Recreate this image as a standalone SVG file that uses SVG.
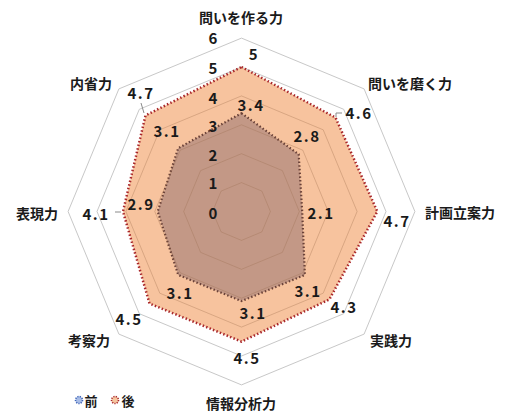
<svg xmlns="http://www.w3.org/2000/svg" width="506" height="414" viewBox="0 0 506 414">
<style>
text{font-family:"Noto Sans CJK JP","Noto Sans",sans-serif;fill:#1a1a1a;dominant-baseline:central;text-anchor:middle}
.cat{font-size:14px;font-weight:bold}
.num{font-size:15px;font-weight:bold;letter-spacing:1.5px}
.tick{font-size:15px;font-weight:bold}
.leg{font-size:13px;font-weight:bold}
.grid{fill:none;stroke:#c8c8c8;stroke-width:1}
.gridin{fill:none;stroke:#8a5a3a;stroke-width:1;stroke-opacity:0.22}
.ld{fill:none;stroke:#8a8a8a;stroke-width:1}
</style>
<rect width="506" height="414" fill="#fff"/>
<g id="grid">
<polygon class="grid" points="241.5,182.6 261.9,191.1 270.4,211.5 261.9,231.9 241.5,240.4 221.1,231.9 212.6,211.5 221.1,191.1"/>
<polygon class="grid" points="241.5,153.7 282.4,170.6 299.3,211.5 282.4,252.4 241.5,269.3 200.6,252.4 183.7,211.5 200.6,170.6"/>
<polygon class="grid" points="241.5,124.8 302.8,150.2 328.2,211.5 302.8,272.8 241.5,298.2 180.2,272.8 154.8,211.5 180.2,150.2"/>
<polygon class="grid" points="241.5,95.9 323.2,129.8 357.1,211.5 323.2,293.2 241.5,327.1 159.8,293.2 125.9,211.5 159.8,129.8"/>
<polygon class="grid" points="241.5,67 343.7,109.3 386,211.5 343.7,313.7 241.5,356 139.3,313.7 97,211.5 139.3,109.3"/>
<polygon class="grid" points="241.5,38.1 364.1,88.9 414.9,211.5 364.1,334.1 241.5,384.9 118.9,334.1 68.1,211.5 118.9,88.9"/>
</g>
<g id="series-after">
<polygon points="241.5,67 335.5,117.5 377.3,211.5 329.4,299.4 241.5,341.6 149.5,303.5 123,211.5 145.5,115.5" fill="#f6b88d" fill-opacity="0.85" stroke="#a8262a" stroke-width="2.5" stroke-dasharray="1.5 2.2"/>
</g>
<g id="series-before">
<polygon points="241.5,113.2 298.7,154.3 302.2,211.5 304.9,274.9 241.5,301.1 178.2,274.9 157.7,211.5 178.2,148.2" fill="#ba9081" fill-opacity="0.85" stroke="#6b4238" stroke-width="2.2" stroke-dasharray="1.5 2.2"/>
</g>
<g id="grid-overlay">
<polygon class="gridin" points="241.5,182.6 261.9,191.1 270.4,211.5 261.9,231.9 241.5,240.4 221.1,231.9 212.6,211.5 221.1,191.1"/>
<polygon class="gridin" points="241.5,153.7 282.4,170.6 299.3,211.5 282.4,252.4 241.5,269.3 200.6,252.4 183.7,211.5 200.6,170.6"/>
<polygon class="gridin" points="241.5,124.8 302.8,150.2 328.2,211.5 302.8,272.8 241.5,298.2 180.2,272.8 154.8,211.5 180.2,150.2"/>
<polygon class="gridin" points="241.5,95.9 323.2,129.8 357.1,211.5 323.2,293.2 241.5,327.1 159.8,293.2 125.9,211.5 159.8,129.8"/>
</g>
<g id="leaders">
<polyline class="ld" points="336,117 336,113 342,113"/>
<line class="ld" x1="115" y1="212" x2="121" y2="212"/>
<line class="ld" x1="141" y1="103" x2="144" y2="113"/>
</g>
<g id="ticks">
<text class="tick" x="213" y="37">6</text>
<text class="tick" x="213" y="67">5</text>
<text class="tick" x="213" y="97">4</text>
<text class="tick" x="213" y="125">3</text>
<text class="tick" x="213" y="154">2</text>
<text class="tick" x="213" y="182">1</text>
<text class="tick" x="213" y="212">0</text>
</g>
<g id="axis-labels">
<text class="cat" x="241" y="17">問いを作る力</text>
<text class="cat" x="410" y="83">問いを磨く力</text>
<text class="cat" x="460" y="212">計画立案力</text>
<text class="cat" x="391" y="340">実践力</text>
<text class="cat" x="241" y="403">情報分析力</text>
<text class="cat" x="89" y="340">考察力</text>
<text class="cat" x="37" y="213">表現力</text>
<text class="cat" x="91" y="83">内省力</text>
</g>
<g id="after-values">
<text class="num" x="254" y="53">5</text>
<text class="num" x="359" y="112">4.6</text>
<text class="num" x="397" y="220">4.7</text>
<text class="num" x="344" y="306">4.3</text>
<text class="num" x="247" y="357">4.5</text>
<text class="num" x="129" y="318">4.5</text>
<text class="num" x="96" y="213">4.1</text>
<text class="num" x="141" y="92">4.7</text>
</g>
<g id="before-values">
<text class="num" x="251" y="104">3.4</text>
<text class="num" x="307" y="135">2.8</text>
<text class="num" x="321" y="212">2.1</text>
<text class="num" x="308" y="290">3.1</text>
<text class="num" x="253" y="312">3.1</text>
<text class="num" x="180" y="292">3.1</text>
<text class="num" x="141" y="203">2.9</text>
<text class="num" x="167" y="130">3.1</text>
</g>
<g id="legend">
<circle cx="79" cy="400" r="3.5" fill="#a9bde6" stroke="#3d64b8" stroke-width="1.6" stroke-dasharray="1.2 1.2"/>
<text class="leg" x="91" y="400">前</text>
<circle cx="115" cy="400" r="3.5" fill="#f6c6a0" stroke="#a8262a" stroke-width="1.6" stroke-dasharray="1.2 1.2"/>
<text class="leg" x="128" y="400">後</text>
</g>
</svg>
